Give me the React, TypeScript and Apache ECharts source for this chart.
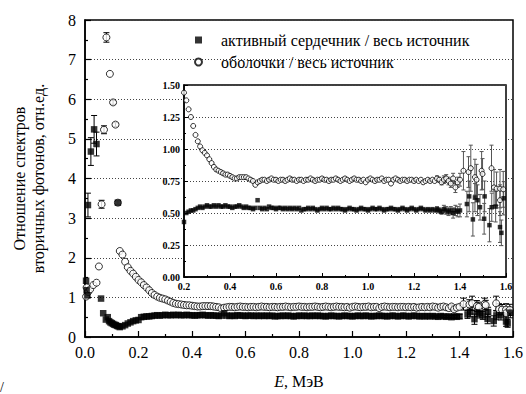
import React, { useEffect, useRef } from "react";
import * as echarts from "echarts";

const FONT = "Liberation Serif";
const CSS = "#root svg text, #root svg tspan { font-family: 'Liberation Serif' !important; }";

// [E (MeV), ratio, error]
const coreLow: number[][] = [
  [0.004, 1.42, 0], [0.006, 1.18, 0], [0.009, 1.05, 0], [0.011, 3.33, 0.3],
  [0.022, 4.68, 0.35], [0.034, 5.24, 0.35], [0.043, 4.87, 0.3], [0.06, 0.97, 0],
  [0.068, 0.6, 0], [0.078, 0.44, 0], [0.085, 0.5, 0], [0.09, 0.4, 0], [0.095, 0.37, 0],
  [0.1, 0.35, 0], [0.105, 0.33, 0], [0.11, 0.31, 0], [0.115, 0.3, 0], [0.12, 0.28, 0],
  [0.123, 3.39, 0], [0.125, 0.27, 0],
];
const coreMid: number[][] = [
  [0.13, 0.25, 0], [0.14, 0.27, 0], [0.15, 0.3, 0], [0.16, 0.34, 0], [0.17, 0.37, 0],
  [0.18, 0.4, 0], [0.19, 0.42, 0], [0.2, 0.43, 0], [0.21, 0.5, 0], [0.22, 0.51, 0],
  [0.23, 0.52, 0], [0.24, 0.52, 0], [0.25, 0.53, 0], [0.26, 0.54, 0], [0.27, 0.55, 0],
  [0.28, 0.54, 0], [0.29, 0.55, 0], [0.3, 0.56, 0], [0.31, 0.55, 0], [0.32, 0.55, 0],
  [0.33, 0.56, 0], [0.34, 0.55, 0], [0.35, 0.56, 0], [0.36, 0.55, 0], [0.37, 0.55, 0],
  [0.38, 0.56, 0], [0.39, 0.55, 0], [0.4, 0.55, 0], [0.41, 0.54, 0], [0.42, 0.55, 0],
  [0.43, 0.55, 0], [0.44, 0.56, 0], [0.45, 0.55, 0], [0.46, 0.54, 0], [0.47, 0.55, 0],
  [0.48, 0.54, 0], [0.49, 0.54, 0], [0.5, 0.53, 0], [0.51, 0.54, 0], [0.52, 0.6, 0],
  [0.53, 0.54, 0], [0.54, 0.53, 0], [0.55, 0.54, 0], [0.56, 0.53, 0], [0.57, 0.55, 0],
  [0.58, 0.54, 0], [0.59, 0.54, 0], [0.6, 0.53, 0], [0.61, 0.54, 0], [0.62, 0.54, 0],
  [0.63, 0.53, 0], [0.64, 0.54, 0], [0.65, 0.53, 0], [0.66, 0.54, 0], [0.67, 0.53, 0],
  [0.68, 0.54, 0], [0.69, 0.53, 0], [0.7, 0.54, 0], [0.71, 0.52, 0], [0.72, 0.53, 0],
  [0.73, 0.53, 0], [0.74, 0.54, 0], [0.75, 0.53, 0], [0.76, 0.54, 0], [0.77, 0.53, 0],
  [0.78, 0.52, 0], [0.79, 0.53, 0], [0.8, 0.54, 0], [0.81, 0.53, 0], [0.82, 0.54, 0],
  [0.83, 0.53, 0], [0.84, 0.53, 0], [0.85, 0.54, 0], [0.86, 0.53, 0], [0.87, 0.54, 0],
  [0.88, 0.53, 0], [0.89, 0.53, 0], [0.9, 0.52, 0], [0.91, 0.53, 0], [0.92, 0.54, 0],
  [0.93, 0.53, 0], [0.94, 0.53, 0], [0.95, 0.52, 0], [0.96, 0.53, 0], [0.97, 0.54, 0],
  [0.98, 0.53, 0], [0.99, 0.53, 0], [1.0, 0.52, 0], [1.01, 0.53, 0], [1.02, 0.54, 0],
  [1.03, 0.53, 0], [1.04, 0.53, 0], [1.05, 0.54, 0], [1.06, 0.53, 0], [1.07, 0.52, 0],
  [1.08, 0.53, 0], [1.09, 0.53, 0], [1.1, 0.54, 0], [1.11, 0.53, 0], [1.12, 0.53, 0],
  [1.13, 0.52, 0], [1.14, 0.53, 0], [1.15, 0.54, 0], [1.16, 0.53, 0], [1.17, 0.52, 0],
  [1.18, 0.53, 0], [1.19, 0.54, 0], [1.2, 0.53, 0], [1.21, 0.52, 0], [1.22, 0.53, 0],
  [1.23, 0.54, 0], [1.24, 0.53, 0], [1.25, 0.52, 0], [1.26, 0.53, 0], [1.27, 0.52, 0],
  [1.28, 0.53, 0], [1.29, 0.52, 0], [1.3, 0.53, 0.02], [1.31, 0.52, 0.02], [1.32, 0.51, 0.02],
  [1.33, 0.53, 0.03], [1.34, 0.52, 0.03], [1.35, 0.51, 0.03], [1.36, 0.52, 0.03],
  [1.37, 0.5, 0.04], [1.38, 0.52, 0.04], [1.39, 0.51, 0.04], [1.4, 0.52, 0.05],
];
const coreTail: number[][] = [
  [1.43, 0.57, 0.1], [1.44, 0.63, 0.12], [1.456, 0.45, 0.13], [1.465, 0.62, 0.11],
  [1.476, 0.6, 0.12], [1.487, 0.545, 0.1], [1.505, 0.455, 0.12], [1.507, 0.63, 0.12],
  [1.528, 0.405, 0.13], [1.538, 0.545, 0.11], [1.555, 0.55, 0.12], [1.574, 0.39, 0.12],
  [1.58, 0.345, 0.1], [1.59, 0.615, 0.13],
];

const shellLow: number[][] = [
  [0.004, 1.02, 0], [0.006, 1.25, 0], [0.012, 1.14, 0], [0.019, 1.2, 0], [0.031, 1.31, 0],
  [0.043, 1.37, 0], [0.052, 1.78, 0], [0.062, 3.35, 0.1], [0.071, 5.23, 0.1],
  [0.08, 7.56, 0.12], [0.093, 6.64, 0], [0.105, 5.92, 0.05], [0.114, 5.36, 0.05],
  [0.123, 3.39, 0.05],
];
const shellMid: number[][] = [
  [0.13, 2.17, 0], [0.14, 2.08, 0], [0.15, 1.9, 0], [0.16, 1.76, 0], [0.17, 1.67, 0],
  [0.18, 1.6, 0], [0.19, 1.52, 0], [0.2, 1.44, 0], [0.21, 1.38, 0], [0.22, 1.31, 0],
  [0.23, 1.25, 0], [0.24, 1.18, 0], [0.25, 1.11, 0], [0.26, 1.06, 0], [0.27, 1.02, 0],
  [0.28, 0.99, 0], [0.29, 0.97, 0], [0.3, 0.95, 0], [0.31, 0.92, 0], [0.32, 0.89, 0],
  [0.33, 0.86, 0], [0.34, 0.84, 0], [0.35, 0.83, 0], [0.36, 0.82, 0], [0.37, 0.81, 0],
  [0.38, 0.8, 0], [0.39, 0.8, 0], [0.4, 0.79, 0], [0.41, 0.78, 0], [0.42, 0.77, 0],
  [0.43, 0.77, 0], [0.44, 0.78, 0], [0.45, 0.78, 0], [0.46, 0.78, 0], [0.47, 0.78, 0],
  [0.48, 0.77, 0], [0.49, 0.76, 0], [0.5, 0.75, 0], [0.51, 0.72, 0], [0.52, 0.74, 0],
  [0.53, 0.75, 0], [0.54, 0.76, 0], [0.55, 0.76, 0], [0.56, 0.75, 0], [0.57, 0.76, 0],
  [0.58, 0.77, 0], [0.59, 0.76, 0], [0.6, 0.76, 0], [0.61, 0.75, 0], [0.62, 0.76, 0],
  [0.63, 0.76, 0], [0.64, 0.75, 0], [0.65, 0.76, 0], [0.66, 0.77, 0], [0.67, 0.76, 0],
  [0.68, 0.76, 0], [0.69, 0.75, 0], [0.7, 0.76, 0], [0.71, 0.76, 0], [0.72, 0.75, 0],
  [0.73, 0.76, 0], [0.74, 0.76, 0], [0.75, 0.77, 0], [0.76, 0.76, 0], [0.77, 0.75, 0],
  [0.78, 0.76, 0], [0.79, 0.76, 0], [0.8, 0.77, 0], [0.81, 0.76, 0], [0.82, 0.76, 0],
  [0.83, 0.75, 0], [0.84, 0.76, 0], [0.85, 0.76, 0], [0.86, 0.77, 0], [0.87, 0.76, 0],
  [0.88, 0.75, 0], [0.89, 0.76, 0], [0.9, 0.77, 0], [0.91, 0.76, 0], [0.92, 0.75, 0],
  [0.93, 0.76, 0], [0.94, 0.77, 0], [0.95, 0.76, 0], [0.96, 0.76, 0], [0.97, 0.75, 0],
  [0.98, 0.76, 0], [0.99, 0.74, 0], [1.0, 0.76, 0], [1.01, 0.77, 0], [1.02, 0.76, 0],
  [1.03, 0.75, 0], [1.04, 0.76, 0], [1.05, 0.76, 0], [1.06, 0.77, 0], [1.07, 0.75, 0],
  [1.08, 0.76, 0], [1.09, 0.76, 0], [1.1, 0.73, 0], [1.11, 0.76, 0], [1.12, 0.77, 0],
  [1.13, 0.76, 0], [1.14, 0.75, 0], [1.15, 0.76, 0], [1.16, 0.76, 0], [1.17, 0.75, 0],
  [1.18, 0.76, 0], [1.19, 0.76, 0], [1.2, 0.75, 0], [1.21, 0.76, 0], [1.22, 0.75, 0],
  [1.23, 0.76, 0], [1.24, 0.74, 0], [1.25, 0.75, 0], [1.26, 0.76, 0], [1.27, 0.75, 0],
  [1.28, 0.76, 0], [1.29, 0.75, 0], [1.3, 0.77, 0.02], [1.31, 0.76, 0.02], [1.32, 0.74, 0.02],
  [1.33, 0.76, 0.03], [1.34, 0.77, 0.03], [1.35, 0.75, 0.03], [1.36, 0.73, 0.03],
  [1.37, 0.77, 0.04], [1.38, 0.7, 0.04], [1.39, 0.74, 0.04], [1.4, 0.76, 0.05],
];
const shellTail: number[][] = [
  [1.415, 0.83, 0.15], [1.437, 0.82, 0.12], [1.447, 0.85, 0.18], [1.465, 0.78, 0.14],
  [1.472, 0.76, 0.12], [1.494, 0.83, 0.15], [1.498, 0.805, 0.12], [1.537, 0.85, 0.18],
  [1.548, 0.7, 0.14], [1.559, 0.69, 0.13], [1.574, 0.69, 0.15], [1.574, 0.6, 0.12],
  [1.588, 0.685, 0.14],
];

const xTicksMain = [0, 1.6, 0.2];
const yTicksMain = [0, 8, 1];
const xTicksInset = [0.2, 1.6, 0.2];
const yTicksInset = [0, 1.5, 0.25];

const SERIES_CORE = "активный сердечник / весь источник";
const SERIES_SHELL = "оболочки / весь источник";

const corePts = [...coreLow, ...coreMid, ...coreTail];
const shellPts = [...shellLow, ...shellMid, ...shellTail];

function errRender(color: string, cap: number) {
  return (_params: any, api: any) => {
    const x = api.value(0);
    const y = api.value(1);
    const e = api.value(2);
    const p1 = api.coord([x, y + e]);
    const p2 = api.coord([x, y - e]);
    const style = { stroke: color, lineWidth: 1 };
    return {
      type: "group",
      children: [
        { type: "line", shape: { x1: p1[0], y1: p1[1], x2: p2[0], y2: p2[1] }, style },
        { type: "line", shape: { x1: p1[0] - cap, y1: p1[1], x2: p1[0] + cap, y2: p1[1] }, style },
        { type: "line", shape: { x1: p2[0] - cap, y1: p2[1], x2: p2[0] + cap, y2: p2[1] }, style },
      ],
    };
  };
}

export default function App() {
  const ref = useRef<HTMLDivElement>(null);
  useEffect(() => {
    if (!ref.current) return;
    const chart = echarts.init(ref.current, null, { renderer: "svg" });
    const withErr = (a: number[][]) => a.filter((p) => p[2] > 0);
    const squareStyle = { color: "#000" };
    const circleStyle = { color: "#fff", borderColor: "#000", borderWidth: 1 };
    const mainAxisCommon = {
      axisLine: { show: true, onZero: false, lineStyle: { color: "#000", width: 1.5 } },
      axisTick: { show: true, inside: true, length: 6, lineStyle: { color: "#000", width: 1.2 } },
      minorTick: { show: true, splitNumber: 2, length: 3, lineStyle: { color: "#000", width: 1.2 } },
      axisLabel: { color: "#000", fontFamily: FONT, fontSize: 16 },
    };
    const insetAxisCommon = {
      axisLine: { show: true, onZero: false, lineStyle: { color: "#000", width: 1.5 } },
      axisTick: { show: true, inside: true, length: 4, lineStyle: { color: "#000", width: 1 } },
      minorTick: { show: true, splitNumber: 2, length: 2, lineStyle: { color: "#000", width: 1 } },
      axisLabel: { color: "#000", fontFamily: FONT, fontSize: 10, fontWeight: "bold" },
    };
    chart.setOption({
      animation: false,
      backgroundColor: "#fff",
      grid: [
        { left: 85, top: 20, width: 432, height: 317, show: true, borderColor: "#000", borderWidth: 1.5, backgroundColor: "transparent", z: 0 },
        { left: 184, top: 85, width: 322, height: 192, show: true, borderColor: "#000", borderWidth: 1.5, backgroundColor: "#fff", z: 10 },
      ],
      legend: {
        orient: "vertical",
        left: 194,
        top: 32,
        padding: 0,
        itemWidth: 7,
        itemHeight: 7,
        itemGap: 6,
        data: [
          { name: SERIES_CORE, icon: "rect" },
          { name: SERIES_SHELL, icon: "circle" },
        ],
        textStyle: { color: "#000", fontFamily: FONT, fontSize: 16, padding: [0, 0, 0, 14] },
        selectedMode: false,
        z: 20,
      },
      xAxis: [
        {
          gridIndex: 0, type: "value", min: xTicksMain[0], max: xTicksMain[1], interval: xTicksMain[2],
          ...mainAxisCommon,
          axisLabel: { ...mainAxisCommon.axisLabel, margin: 7, formatter: (v: number) => v.toFixed(1) },
          splitLine: { show: false },
          name: "{i|E}{n|, МэВ}",
          nameLocation: "middle",
          nameGap: 36,
          nameTextStyle: {
            color: "#000", fontFamily: FONT, fontSize: 16,
            rich: {
              i: { fontStyle: "italic", fontFamily: FONT, fontSize: 16, color: "#000" },
              n: { fontFamily: FONT, fontSize: 16, color: "#000" },
            },
          },
        },
        {
          gridIndex: 1, type: "value", min: xTicksInset[0], max: xTicksInset[1], interval: xTicksInset[2],
          ...insetAxisCommon,
          axisLabel: { ...insetAxisCommon.axisLabel, margin: 4, formatter: (v: number) => v.toFixed(1) },
          splitLine: { show: false },
          z: 11,
        },
      ],
      yAxis: [
        {
          gridIndex: 0, type: "value", min: yTicksMain[0], max: yTicksMain[1], interval: yTicksMain[2],
          ...mainAxisCommon,
          axisLabel: { ...mainAxisCommon.axisLabel, margin: 9, formatter: (v: number) => String(Math.round(v)) },
          splitLine: { show: true, lineStyle: { color: "#444", width: 1, type: [1, 2] } },
          name: "Отношение спектров\nвторичных фотонов, отн.ед.",
          nameLocation: "middle",
          nameGap: 37,
          nameTextStyle: { color: "#000", fontFamily: FONT, fontSize: 16, lineHeight: 19 },
        },
        {
          gridIndex: 1, type: "value", min: yTicksInset[0], max: yTicksInset[1], interval: yTicksInset[2],
          ...insetAxisCommon,
          axisLabel: { ...insetAxisCommon.axisLabel, margin: 4, formatter: (v: number) => v.toFixed(2) },
          splitLine: { show: true, lineStyle: { color: "#444", width: 1, type: [1, 2] } },
          z: 11,
        },
      ],
      series: [
        { type: "custom", name: "errMainCore", xAxisIndex: 0, yAxisIndex: 0, data: withErr(corePts), renderItem: errRender("#000", 3), encode: { x: 0, y: 1 }, clip: true, z: 3, silent: true },
        { type: "custom", name: "errMainShell", xAxisIndex: 0, yAxisIndex: 0, data: withErr(shellPts), renderItem: errRender("#000", 3), encode: { x: 0, y: 1 }, clip: true, z: 3, silent: true },
        { type: "scatter", name: SERIES_SHELL, xAxisIndex: 0, yAxisIndex: 0, data: shellPts.map((p) => [p[0], p[1]]), symbol: "circle", symbolSize: 7, itemStyle: circleStyle, z: 4 },
        { type: "scatter", name: SERIES_CORE, xAxisIndex: 0, yAxisIndex: 0, data: corePts.map((p) => [p[0], p[1]]), symbol: "rect", symbolSize: 6.5, itemStyle: squareStyle, z: 5 },
        { type: "custom", name: "errInsetCore", xAxisIndex: 1, yAxisIndex: 1, data: withErr(corePts), renderItem: errRender("#555", 2), encode: { x: 0, y: 1 }, clip: true, z: 12, silent: true },
        { type: "custom", name: "errInsetShell", xAxisIndex: 1, yAxisIndex: 1, data: withErr(shellPts), renderItem: errRender("#555", 2), encode: { x: 0, y: 1 }, clip: true, z: 12, silent: true },
        { type: "scatter", name: SERIES_SHELL, xAxisIndex: 1, yAxisIndex: 1, data: shellPts.map((p) => [p[0], p[1]]), symbol: "circle", symbolSize: 5, itemStyle: circleStyle, clip: true, z: 13 },
        { type: "scatter", name: SERIES_CORE, xAxisIndex: 1, yAxisIndex: 1, data: corePts.map((p) => [p[0], p[1]]), symbol: "rect", symbolSize: 4.5, itemStyle: squareStyle, clip: true, z: 14 },
      ],
      graphic: [
        { type: "text", left: 0, top: 380, style: { text: "/", fontSize: 14, fontFamily: FONT, fill: "#000" } },
      ],
    });
    return () => chart.dispose();
  }, []);
  return (
    <>
      <style>{CSS}</style>
      <div ref={ref} style={{ position: "absolute", left: 0, top: 0, width: 526, height: 394 }} />
    </>
  );
}
